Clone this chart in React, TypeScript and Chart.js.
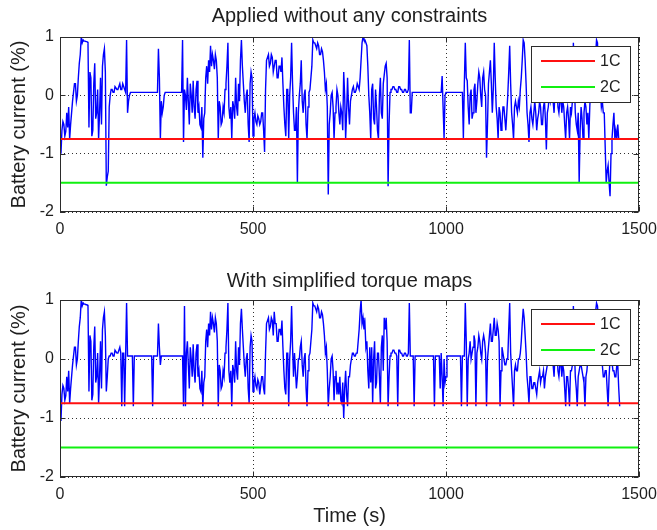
import React, { useEffect, useRef } from 'react';
import { Chart, registerables } from 'chart.js';

Chart.register(...registerables);

// ---------------- data ----------------
const TITLES = ['Applied without any constraints', 'With simplified torque maps'];
const Y_LABEL = 'Battery current (%)';
const X_LABEL = 'Time (s)';
const X_TICKS = [0, 500, 1000, 1500];
const Y_TICKS = [-2, -1, 0, 1];
const LIMIT_LABELS = ['1C', '2C'];
const LIMIT_VALUES = [-0.75, -1.5];
const SAMPLE_STEP_S = 2.5; // one reading every 2.5 s, from t = 0

// battery current, unconstrained (top panel); one row = 50 s
const CURRENT_UNCONSTRAINED = [
  -0.72, -1.0, -0.6, -0.45, -0.5, -0.7, -0.62, -0.3, -0.55, -0.2, -0.75, -0.5, -0.3, -0.1, 0.05, 0.2, 0.2, -0.1, 0.0, 0.3,
  0.55, 0.7, 1.0, 0.9, 0.95, 0.93, 0.93, 0.92, 0.92, 0.9, -0.55, 0.4, 0.3, -0.7, -0.6, 0.2, 0.55, -0.4, -0.3, 0.1,
  -0.75, -0.3, 0.3, -0.5, 0.5, 0.7, 0.8, 0.4, -1.55, -1.4, -1.3, -0.2, 0.0, 0.1, 0.1, 0.05, 0.05, 0.15, 0.15, 0.1,
  0.1, 0.15, 0.2, 0.1, 0.1, 0.2, 0.15, 0.1, 0.05, 0.95, -0.3, -0.1, 0.0, 0.05, 0.05, 0.05, 0.05, 0.05, 0.05, 0.05,
  0.05, 0.05, 0.05, 0.05, 0.05, 0.05, 0.05, 0.05, 0.05, 0.05, 0.05, 0.05, 0.05, 0.05, 0.05, 0.05, 0.05, 0.05, 0.05, 0.05,
  0.05, 0.05, 0.8, 0.3, -0.75, -0.1, -0.3, -0.2, 0.0, 0.05, 0.05, 0.05, 0.05, 0.05, 0.05, 0.05, 0.05, 0.05, 0.05, 0.05,
  0.05, 0.05, 0.05, 0.05, 0.05, 0.05, 0.05, 0.95, -0.8, 0.1, 0.0, -0.25, 0.3, -0.1, -0.5, 0.2, 0.0, -0.3, 0.25, -0.2,
  -0.4, 0.1, 0.25, -0.3, -0.2, -0.5, -0.55, -0.2, -1.07, -0.4, -0.3, 0.3, 0.5, 0.2, 0.6, 0.4, 0.85, 0.5, 0.7, 0.6,
  0.45, 0.7, 0.6, 0.3, -0.75, -0.1, -0.2, -0.5, -0.45, -0.2, -0.3, 0.1, 0.2, 0.5, 0.9, -0.2, -0.4, -0.2, -0.75, -0.1,
  -0.2, -0.4, 0.3, -0.2, -0.35, 0.2, -0.1, 0.6, 0.95, 0.5, 0.2, -0.1, -0.3, 0.0, 0.1, -0.5, -0.8, 0.2, 0.4, 0.3,
  -0.7, -0.4, -0.3, -0.45, -0.5, -0.35, -0.4, -0.5, -0.45, -0.3, -0.3, -0.6, -0.97, 0.1, 0.6, 0.65, 0.7, 0.5, 0.55, 0.7,
  0.65, 0.4, 0.5, 0.6, 0.6, 0.3, 0.3, 0.5, 0.5, 0.4, 0.65, 0.2, -0.2, -0.5, -0.7, 0.1, 0.1, -0.75, 0.0, 0.3,
  0.9, 0.2, -0.3, -0.6, -0.6, -0.2, -1.5, -0.3, 0.0, 0.2, 0.6, -0.1, -0.3, 0.0, 0.1, -0.5, -0.75, -0.2, 0.05, 0.1,
  0.3, 0.5, 0.95, 0.9, 0.9, 0.85, 0.8, 0.9, 0.85, 0.7, 0.7, 0.8, 0.75, 0.6, 0.4, 0.1, 0.2, -0.2, -1.7, -0.5,
  -0.3, 0.0, 0.05, -0.2, -0.75, -0.3, -0.2, 0.1, 0.0, -0.3, -0.5, -0.2, -0.3, -0.6, 0.4, 0.0, -0.75, -0.3, 0.3, -0.2,
  -0.5, -0.1, 0.0, 0.1, 0.15, 0.05, 0.05, 0.1, 0.2, 0.15, 0.1, 0.3, 0.6, 0.9, 1.0, 0.95, 0.95, 0.9, 0.85, 0.5,
  0.0, -0.3, -0.75, 0.1, 0.2, -0.4, -0.5, 0.1, -0.2, -0.6, -0.75, 0.0, 0.3, -0.3, -0.4, 0.2, 0.35, 0.5, 0.55, 0.3,
  -1.56, -0.5, 0.05, 0.1, 0.1, 0.15, 0.15, 0.1, 0.1, 0.05, 0.05, 0.15, 0.15, 0.1, 0.1, 0.05, 0.05, 0.1, 0.1, 0.05,
  0.05, 0.1, 0.95, -0.3, -0.3, 0.05, 0.05, 0.05, 0.05, 0.05, 0.05, 0.05, 0.05, 0.05, 0.05, 0.05, 0.05, 0.05, 0.05, 0.05,
  0.05, 0.05, 0.05, 0.05, 0.05, 0.05, 0.05, 0.05, 0.05, 0.05, 0.05, 0.05, 0.05, 0.05, 0.05, 0.05, 0.33, -0.2, -0.73, 0.0,
  0.05, 0.05, 0.05, 0.05, 0.05, 0.05, 0.05, 0.05, 0.05, 0.05, 0.05, 0.05, 0.05, 0.05, 0.05, 0.05, 0.05, 0.05, -0.73, 0.2,
  0.9, 0.3, 0.25, -0.2, -0.5, 0.0, 0.1, -0.4, -0.3, 0.1, 0.2, -0.3, -0.1, 0.2, 0.4, 0.3, 0.0, -0.2, 0.3, 0.4,
  0.1, 0.0, -1.07, -0.5, 0.2, 0.4, 0.6, 0.2, -0.3, 0.1, 0.9, 0.3, -0.2, -0.4, -0.75, -0.2, -0.3, -0.6, -0.5, -0.2,
  -0.2, -0.4, -0.6, -0.3, 0.0, 0.4, 0.85, 0.2, -0.3, -0.5, -0.75, -0.2, -0.1, -0.2, -0.3, -0.1, -0.2, 0.1, 0.3, 0.6,
  0.95, 0.9, 0.6, 0.2, -0.3, -0.5, -0.8, -0.3, -0.2, -0.4, -0.5, -0.3, -0.1, -0.3, -0.6, -0.4, -0.3, -0.1, -0.2, -0.5,
  -0.5, -0.2, -0.1, -0.4, -0.93, -0.3, -0.2, 0.0, -0.1, 0.1, 0.2, -0.1, -0.3, 0.1, 0.4, 0.2, -0.2, -0.3, -0.1, 0.0,
  -0.3, -0.1, -0.2, -0.5, -0.75, -0.3, -0.2, -0.4, -0.75, -0.2, -0.3, -0.1, 0.9, 0.2, -0.3, -0.5, -0.6, -0.3, -1.5, -0.6,
  -0.2, -0.4, -0.75, -0.3, -0.1, -0.2, -0.5, -0.3, -0.75, -0.2, 0.2, 0.4, 0.5, 0.3, 0.6, 0.7, 0.95, 0.9, 0.3, 0.2,
  0.1, -0.2, -0.1, -0.3, -0.3, -0.9, -1.5, -1.3, -1.2, -1.5, -1.73, -1.0, -0.75, -0.5, -0.3, -0.75, -0.6, -0.75, -0.5, -0.75,
  -0.75,
];

// battery current with simplified torque maps (bottom panel); one row = 50 s
const CURRENT_SIMPLIFIED = [
  -0.72, -1.05, -0.6, -0.45, -0.5, -0.7, -0.62, -0.3, -0.55, -0.2, -0.75, -0.5, -0.3, -0.1, 0.05, 0.2, 0.2, -0.1, 0.0, 0.3,
  0.55, 0.7, 1.0, 0.9, 0.95, 0.93, 0.93, 0.92, 0.92, 0.9, -0.55, 0.4, 0.3, -0.7, -0.6, 0.2, 0.55, -0.4, -0.3, 0.1,
  -0.75, -0.3, 0.3, -0.5, 0.5, 0.7, 0.8, 0.4, -0.55, -0.3, 0.0, 0.05, 0.05, 0.1, 0.1, 0.05, 0.05, 0.15, 0.15, 0.1,
  0.1, 0.15, 0.2, 0.1, -0.8, 0.1, 0.1, -0.8, 0.05, 0.95, 0.05, 0.05, 0.05, 0.05, 0.05, 0.05, -0.8, 0.05, 0.05, 0.05,
  0.05, 0.05, 0.05, 0.05, 0.05, 0.05, 0.05, 0.05, 0.05, 0.05, 0.05, 0.05, 0.05, 0.05, 0.05, 0.05, -0.8, 0.05, 0.05, 0.05,
  0.05, 0.05, 0.6, 0.2, -0.1, 0.05, 0.05, 0.05, 0.05, 0.05, 0.05, 0.05, 0.05, 0.05, 0.05, 0.05, 0.05, 0.05, 0.05, 0.05,
  0.05, 0.05, 0.05, 0.05, 0.05, 0.05, 0.05, 0.05, -0.8, 0.9, -0.8, 0.1, 0.3, -0.1, -0.5, 0.2, 0.0, -0.3, 0.25, -0.2,
  -0.4, 0.1, 0.25, -0.3, -0.2, -0.5, -0.55, -0.2, -0.8, -0.4, -0.3, 0.3, 0.5, 0.2, 0.6, 0.4, 0.8, 0.5, 0.7, 0.6,
  0.45, 0.7, 0.6, 0.3, -0.8, -0.1, -0.2, -0.5, -0.45, -0.2, -0.3, 0.1, 0.2, 0.5, 0.95, -0.2, -0.4, -0.2, -0.8, -0.1,
  -0.2, -0.4, 0.3, -0.2, -0.35, 0.2, -0.1, 0.6, 0.85, 0.5, 0.2, -0.1, -0.3, 0.0, 0.1, -0.5, -0.75, 0.2, 0.4, 0.3,
  -0.55, -0.4, -0.3, -0.45, -0.5, -0.35, -0.4, -0.6, -0.45, -0.3, -0.3, -0.5, -0.6, 0.1, 0.6, 0.65, 0.7, 0.5, 0.55, 0.7,
  0.65, 0.4, 0.8, 0.6, 0.6, 0.3, 0.3, 0.5, 0.5, 0.4, 0.65, 0.2, -0.2, -0.5, -0.6, 0.1, 0.1, -0.8, 0.0, 0.3,
  0.9, 0.2, -0.3, 0.1, -0.2, -0.5, -0.3, 0.0, 0.0, 0.2, 0.3, -0.1, -0.3, 0.0, 0.1, -0.5, -0.8, -0.2, 0.05, 0.1,
  0.3, 0.5, 0.95, 0.9, 0.9, 0.85, 0.8, 0.9, 0.85, 0.7, 0.7, 0.8, 0.75, 0.6, 0.4, 0.1, 0.2, -0.2, -0.8, -0.5,
  -0.3, 0.0, 0.05, -0.2, -0.7, -0.3, -0.2, -0.6, -0.4, -0.6, -0.3, -0.7, -0.75, -0.4, -1.0, -0.5, -0.2, -0.6, -0.8, -0.3,
  -0.3, -0.1, 0.0, 0.1, 0.1, 0.05, 0.05, 0.1, 0.1, 0.3, 0.5, 0.8, 1.0, 0.6, 0.7, 0.5, 0.6, 0.2, 0.3, -0.2,
  -0.5, 0.2, -0.4, 0.2, -0.75, 0.0, 0.3, -0.5, -0.4, 0.1, 0.1, -0.3, -0.75, 0.2, 0.4, -0.2, 0.7, 0.5, 0.7, 0.3,
  -0.8, -0.3, 0.05, 0.1, 0.1, 0.15, 0.15, 0.1, 0.1, 0.05, -0.8, 0.15, 0.15, 0.1, 0.1, 0.05, 0.05, 0.1, 0.1, 0.05,
  0.05, 0.1, 0.95, 0.05, 0.05, 0.05, 0.05, -0.8, 0.05, 0.05, 0.05, 0.05, 0.05, 0.05, 0.05, 0.05, 0.05, 0.05, 0.05, 0.05,
  0.05, 0.05, 0.05, 0.05, 0.05, 0.05, 0.05, 0.05, -0.8, 0.05, 0.05, 0.05, 0.05, 0.05, -0.5, 0.1, -0.3, -0.8, 0.0, -0.4,
  -0.3, 0.05, 0.05, 0.05, 0.05, 0.05, 0.05, 0.05, 0.05, 0.05, 0.05, 0.05, 0.05, 0.05, 0.05, 0.05, -0.8, 0.05, 0.05, 0.05,
  0.95, 0.3, -0.8, 0.0, 0.1, 0.3, 0.0, 0.1, 0.2, 0.4, 0.3, -0.8, 0.1, 0.2, 0.4, 0.3, 0.1, 0.0, 0.3, 0.4,
  0.3, 0.1, -0.8, 0.0, 0.2, 0.4, 0.6, 0.3, 0.3, 0.5, 0.7, 0.4, 0.4, 0.6, 0.5, 0.3, -0.8, -0.2, 0.2, 0.1,
  0.0, -0.1, -0.1, 0.0, 0.0, 0.5, 0.95, 0.1, -0.2, -0.5, -0.8, -0.2, -0.1, -0.2, -0.2, 0.0, 0.0, 0.1, 0.3, 0.6,
  0.85, 0.7, 0.4, 0.1, -0.3, -0.5, -0.75, -0.3, -0.3, -0.5, -0.5, -0.4, -0.4, -0.5, -0.6, -0.4, -0.3, -0.2, -0.4, -0.3,
  -0.3, -0.2, -0.5, -0.3, -0.2, -0.1, -0.1, 0.0, 0.0, 0.1, 0.2, -0.1, -0.3, 0.1, 0.4, 0.2, -0.2, -0.3, -0.1, 0.0,
  -0.3, -0.1, -0.2, -0.5, -0.8, -0.3, -0.3, -0.5, -0.8, -0.2, -0.2, -0.1, 0.9, 0.2, -0.3, -0.5, -0.8, -0.3, -0.2, -0.1,
  -0.1, -0.2, -0.3, -0.4, -0.8, -0.3, -0.2, 0.0, 0.1, 0.2, 0.3, 0.4, 0.5, 0.3, 0.7, 0.8, 0.95, 0.9, 0.6, 0.3,
  0.1, -0.1, -0.1, -0.3, -0.3, -0.2, -0.2, -0.5, -0.8, -0.3, 0.0, 0.1, 0.1, -0.2, -0.2, -0.3, -0.3, -0.1, -0.1, -0.5,
  -0.8,
];

const SERIES = [CURRENT_UNCONSTRAINED, CURRENT_SIMPLIFIED];

// ---------------- styling ----------------
const FONT = "'Liberation Sans', Arial, Helvetica, sans-serif";
const TEXT_COLOR = '#1e1e1e';
const FRAME_COLOR = '#2b2b2b';
const LIMIT_COLORS = ['#ff1010', '#10f010'];
const TRACE_COLOR = '#0000ff';

type PanelLayout = {
  height: number;
  titlePadTop: number;
  titlePadBottom: number;
  xAxisHeight: number;
  showXLabel: boolean;
};

const PANELS: PanelLayout[] = [
  { height: 260, titlePadTop: 4, titlePadBottom: 9, xAxisHeight: 48, showXLabel: false },
  { height: 270, titlePadTop: 9, titlePadBottom: 7, xAxisHeight: 53, showXLabel: true },
];

const framePlugin = {
  id: 'matlabFrame',
  afterDatasetsDraw(chart: any) {
    const { ctx, chartArea: a, scales } = chart;
    ctx.save();
    ctx.strokeStyle = FRAME_COLOR;
    ctx.lineWidth = 1;
    const l = Math.round(a.left) + 0.5;
    const t = Math.round(a.top) + 0.5;
    const r = Math.round(a.right) - 0.5;
    const b = Math.round(a.bottom) - 0.5;
    ctx.strokeRect(l, t, r - l, b - t);
    const tl = 5;
    ctx.beginPath();
    for (const v of X_TICKS) {
      const px = Math.round(scales.x.getPixelForValue(v)) + 0.5;
      ctx.moveTo(px, b);
      ctx.lineTo(px, b - tl);
      ctx.moveTo(px, t);
      ctx.lineTo(px, t + tl);
    }
    for (const v of Y_TICKS) {
      const py = Math.round(scales.y.getPixelForValue(v)) + 0.5;
      ctx.moveTo(l, py);
      ctx.lineTo(l + tl, py);
      ctx.moveTo(r, py);
      ctx.lineTo(r - tl, py);
    }
    ctx.stroke();
    ctx.restore();
  },
  afterDraw(chart: any) {
    // legend box in the upper right corner of the axes
    const { ctx, chartArea: a } = chart;
    const w = 99;
    const h = 56;
    const x0 = Math.round(a.right) - 108;
    const y0 = Math.round(a.top) + 9;
    ctx.save();
    ctx.fillStyle = '#ffffff';
    ctx.fillRect(x0, y0, w, h);
    ctx.strokeStyle = FRAME_COLOR;
    ctx.lineWidth = 1;
    ctx.strokeRect(x0 + 0.5, y0 + 0.5, w, h);
    ctx.font = `16px ${FONT}`;
    ctx.textBaseline = 'middle';
    ctx.textAlign = 'left';
    const items = chart.data.datasets.filter((d: any) => LIMIT_LABELS.includes(d.label));
    items.forEach((d: any, i: number) => {
      const y = y0 + 15 + i * 26;
      ctx.strokeStyle = d.borderColor;
      ctx.lineWidth = 2;
      ctx.beginPath();
      ctx.moveTo(x0 + 10, y);
      ctx.lineTo(x0 + 64, y);
      ctx.stroke();
      ctx.fillStyle = TEXT_COLOR;
      ctx.fillText(d.label, x0 + 69, y + 1);
    });
    ctx.restore();
  },
};

function buildConfig(index: number): any {
  const panel = PANELS[index];
  const values = SERIES[index];
  const trace = values.map((v, i) => ({ x: i * SAMPLE_STEP_S, y: v }));
  const xMin = X_TICKS[0];
  const xMax = X_TICKS[X_TICKS.length - 1];
  const limitSets = LIMIT_LABELS.map((label, i) => ({
    label,
    data: [
      { x: xMin, y: LIMIT_VALUES[i] },
      { x: xMax, y: LIMIT_VALUES[i] },
    ],
    borderColor: LIMIT_COLORS[i],
    borderWidth: 2,
    pointRadius: 0,
    tension: 0,
  }));
  return {
    type: 'line',
    data: {
      datasets: [
        ...limitSets,
        {
          label: 'Battery current',
          data: trace,
          borderColor: TRACE_COLOR,
          borderWidth: 1.4,
          pointRadius: 0,
          tension: 0,
        },
      ],
    },
    options: {
      responsive: false,
      animation: false,
      events: [],
      layout: { padding: { top: 0, left: 0, right: 18, bottom: 0 } },
      plugins: {
        legend: { display: false },
        tooltip: { enabled: false },
        title: {
          display: true,
          text: TITLES[index],
          fullSize: false,
          color: TEXT_COLOR,
          font: { family: FONT, size: 20, weight: 'normal', lineHeight: 1.2 },
          padding: { top: panel.titlePadTop, bottom: panel.titlePadBottom },
        },
      },
      scales: {
        x: {
          type: 'linear',
          min: xMin,
          max: xMax,
          afterBuildTicks: (s: any) => {
            s.ticks = X_TICKS.map((v) => ({ value: v }));
          },
          afterFit: (s: any) => {
            s.height = panel.xAxisHeight;
            s.paddingLeft = 0;
            s.paddingRight = 0;
          },
          ticks: {
            color: TEXT_COLOR,
            font: { family: FONT, size: 16 },
            padding: 8,
            maxRotation: 0,
            autoSkip: false,
            callback: (v: any) => String(v),
          },
          grid: { color: '#303030', lineWidth: 1, drawTicks: false },
          border: { display: false, dash: [1, 3] },
          title: {
            display: panel.showXLabel,
            text: X_LABEL,
            color: TEXT_COLOR,
            font: { family: FONT, size: 20, lineHeight: 1.2 },
            padding: { top: 0, bottom: 2 },
          },
        },
        y: {
          type: 'linear',
          min: Y_TICKS[0],
          max: Y_TICKS[Y_TICKS.length - 1],
          afterBuildTicks: (s: any) => {
            s.ticks = Y_TICKS.map((v) => ({ value: v }));
          },
          afterFit: (s: any) => {
            s.width = 60;
            s.paddingTop = 0;
            s.paddingBottom = 0;
          },
          ticks: {
            color: TEXT_COLOR,
            font: { family: FONT, size: 16 },
            padding: 6,
            autoSkip: false,
            callback: (v: any) => String(v),
          },
          grid: { color: '#303030', lineWidth: 1, drawTicks: false },
          border: { display: false, dash: [1, 3] },
          title: {
            display: true,
            text: Y_LABEL,
            color: TEXT_COLOR,
            font: { family: FONT, size: 20, lineHeight: 1.2 },
            padding: { top: 7, bottom: 0 },
          },
        },
      },
    },
    plugins: [framePlugin],
  };
}

function Panel({ index }: { index: number }) {
  const ref = useRef<HTMLCanvasElement | null>(null);
  useEffect(() => {
    if (!ref.current) return;
    const chart = new Chart(ref.current, buildConfig(index));
    return () => chart.destroy();
  }, [index]);
  return (
    <canvas
      ref={ref}
      width={657}
      height={PANELS[index].height}
      style={{ display: 'block', width: 657, height: PANELS[index].height }}
    />
  );
}

export default function App() {
  return (
    <div
      style={{
        position: 'absolute',
        left: 0,
        top: 0,
        width: 657,
        height: 530,
        background: '#ffffff',
      }}
    >
      <Panel index={0} />
      <Panel index={1} />
    </div>
  );
}
